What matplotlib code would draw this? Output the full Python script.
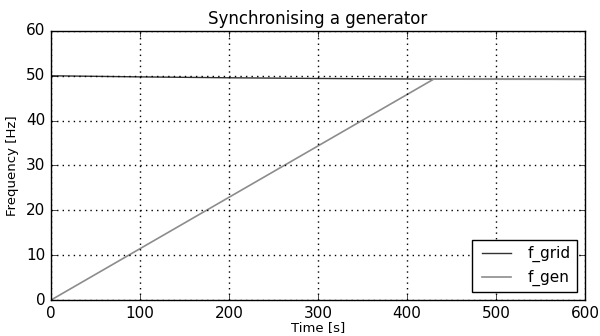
import matplotlib
matplotlib.use('Agg')
import matplotlib.pyplot as plt

# values
t_grid = [0, 100, 200, 300, 430, 600]
f_grid = [50.0, 49.75, 49.55, 49.4, 49.25, 49.2]

t_gen = [0, 430, 600]
f_gen = [0.0, 49.25, 49.2]

plt.style.use('classic')
plt.rcParams['font.size'] = 11

fig = plt.figure(figsize=(6, 3.36), dpi=100)
ax = fig.add_axes([0.085, 0.107, 0.89, 0.801])

ax.plot(t_grid, f_grid, color='#333333', lw=1, label='f_grid')
ax.plot(t_gen, f_gen, color='#8c8c8c', lw=1.2, label='f_gen')

ax.set_xlim(0, 600)
ax.set_ylim(0, 60)
ax.set_title('Synchronising a generator', fontsize=12)
ax.set_xlabel('Time [s]', fontsize=9.5, labelpad=0)
ax.set_ylabel('Frequency [Hz]', fontsize=9.5)
ax.grid(True, color='black', linestyle=':', linewidth=1)
ax.legend(loc='lower right', fontsize=11, handlelength=2.5)

fig.savefig('out.png', dpi=100)
